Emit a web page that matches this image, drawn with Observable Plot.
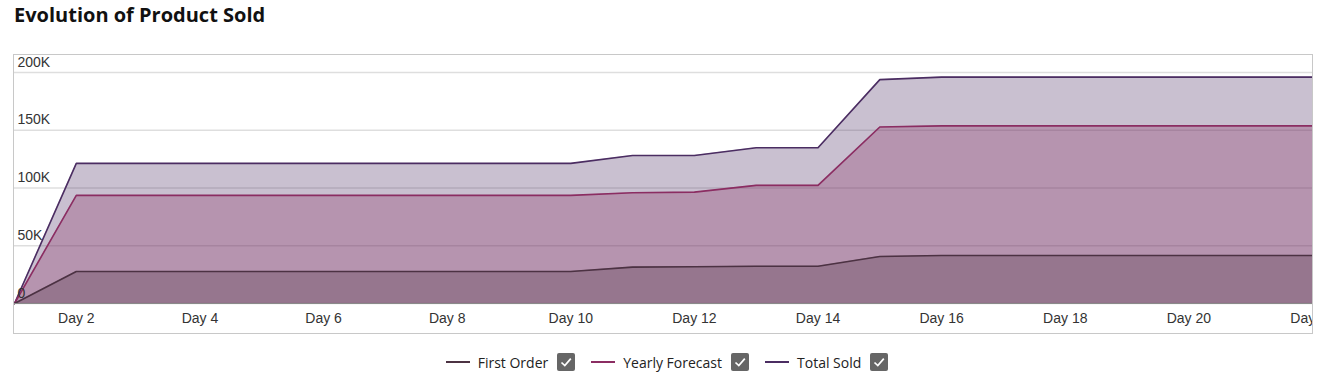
<!DOCTYPE html>
<html>
<head>
<meta charset="utf-8">
<script src="https://cdn.jsdelivr.net/npm/d3@7"></script>
<script src="https://cdn.jsdelivr.net/npm/@observablehq/plot@0.6"></script>
<style>
  body { margin: 0; background: #fff; width: 1322px; height: 385px; position: relative; overflow: hidden; font-family: "Open Sans", sans-serif; }
  #title { position: absolute; left: 14px; top: 1px; font-size: 20px; font-weight: 700; color: #111; white-space: nowrap; }
  #chart { position: absolute; left: 13px; top: 54px; width: 1298px; height: 278px; border: 1px solid #c8c8c8; overflow: hidden; }
  #chart svg { display: block; overflow: hidden; }
  #legend { position: absolute; left: 6px; width: 1322px; top: 351px; height: 22px; display: flex; justify-content: center; align-items: center; font-size: 14px; color: #222; }
  .item { display: flex; align-items: center; margin: 0 8px; }
  .swatch { width: 24px; height: 2px; margin-right: 8px; }
  .box { margin-left: 9px; width: 18px; height: 18px; }
</style>
</head>
<body>
<div id="title">Evolution of Product Sold</div>
<div id="chart"></div>
<div id="legend"></div>
<script>
// ---- data ----
const days = [1, 2, 3, 4, 5, 6, 7, 8, 9, 10, 11, 12, 13, 14, 15, 16, 17, 18, 19, 20, 21, 22];
const firstOrder     = [0, 27700, 27700, 27700, 27700, 27700, 27700, 27700, 27700, 27700, 31500, 31800, 32300, 32300, 40700, 41600, 41600, 41600, 41600, 41600, 41600, 41600];
const yearlyForecast = [0, 93600, 93600, 93600, 93600, 93600, 93600, 93600, 93600, 93600, 95900, 96400, 102300, 102300, 152800, 153800, 153800, 153800, 153800, 153800, 153800, 153800];
const totalSold      = [0, 121300, 121300, 121300, 121300, 121300, 121300, 121300, 121300, 121300, 128200, 128200, 134900, 134900, 193800, 196000, 196000, 196000, 196000, 196000, 196000, 196000];
const seriesNames  = ["First Order", "Yearly Forecast", "Total Sold"];
const seriesColors = ["#4c3243", "#8b2d62", "#4b2d62"];
const yTicks = [0, 50000, 100000, 150000, 200000];
const xTicks = [2, 4, 6, 8, 10, 12, 14, 16, 18, 20, 22];
const yMax = 200000;

// ---- tidy table ----
const seriesValues = [firstOrder, yearlyForecast, totalSold];
const rowsFor = i => days.map((d, j) => ({day: d, value: seriesValues[i][j], series: seriesNames[i]}));
const drawOrder = [2, 1, 0]; // back to front

const marks = [
  Plot.gridY(yTicks, {stroke: "#000", strokeOpacity: 0.13, strokeWidth: 1.5})
];
for (const i of drawOrder) {
  const rows = rowsFor(i);
  marks.push(Plot.areaY(rows, {x: "day", y: "value", fill: seriesColors[i], fillOpacity: 0.3}));
  marks.push(Plot.lineY(rows, {x: "day", y: "value", stroke: seriesColors[i], strokeWidth: 1.6}));
}
marks.push(Plot.ruleY([0], {stroke: "#8a8a8a", strokeWidth: 1}));
marks.push(Plot.text(yTicks, {
  y: d => d, text: d => d === 0 ? "0" : (d / 1000) + "K",
  frameAnchor: "left", textAnchor: "start", lineAnchor: "bottom", dx: 3, dy: -6,
  fill: "#333", fontSize: 14
}));
marks.push(Plot.axisX(xTicks, {
  tickSize: 0, tickPadding: 10, tickFormat: d => "Day " + d, fill: "#333", fontSize: 14, label: null
}));

const chart = Plot.plot({
  width: 1298,
  height: 278,
  marginLeft: 0,
  marginRight: 0,
  marginTop: 17,
  marginBottom: 30,
  style: {fontFamily: "'Liberation Sans', Arial, sans-serif", fontSize: "14px", color: "#333", background: "#fff"},
  x: {type: "linear", domain: [days[0], days[days.length - 1]]},
  y: {domain: [0, yMax], axis: null},
  marks
});
document.getElementById("chart").appendChild(chart);

// ---- legend ----
const legend = d3.select("#legend");
seriesNames.forEach((name, i) => {
  const item = legend.append("div").attr("class", "item");
  item.append("div").attr("class", "swatch").style("background", seriesColors[i]);
  item.append("span").text(name);
  const box = item.append("svg").attr("class", "box").attr("viewBox", "0 0 18 18").attr("width", 18).attr("height", 18);
  box.append("rect").attr("width", 18).attr("height", 18).attr("rx", 2).attr("fill", "#666");
  box.append("path").attr("d", "M4.5 9.5 L7.8 12.6 L13.8 5.6").attr("fill", "none").attr("stroke", "#fff").attr("stroke-width", 1.7);
});
</script>
</body>
</html>
